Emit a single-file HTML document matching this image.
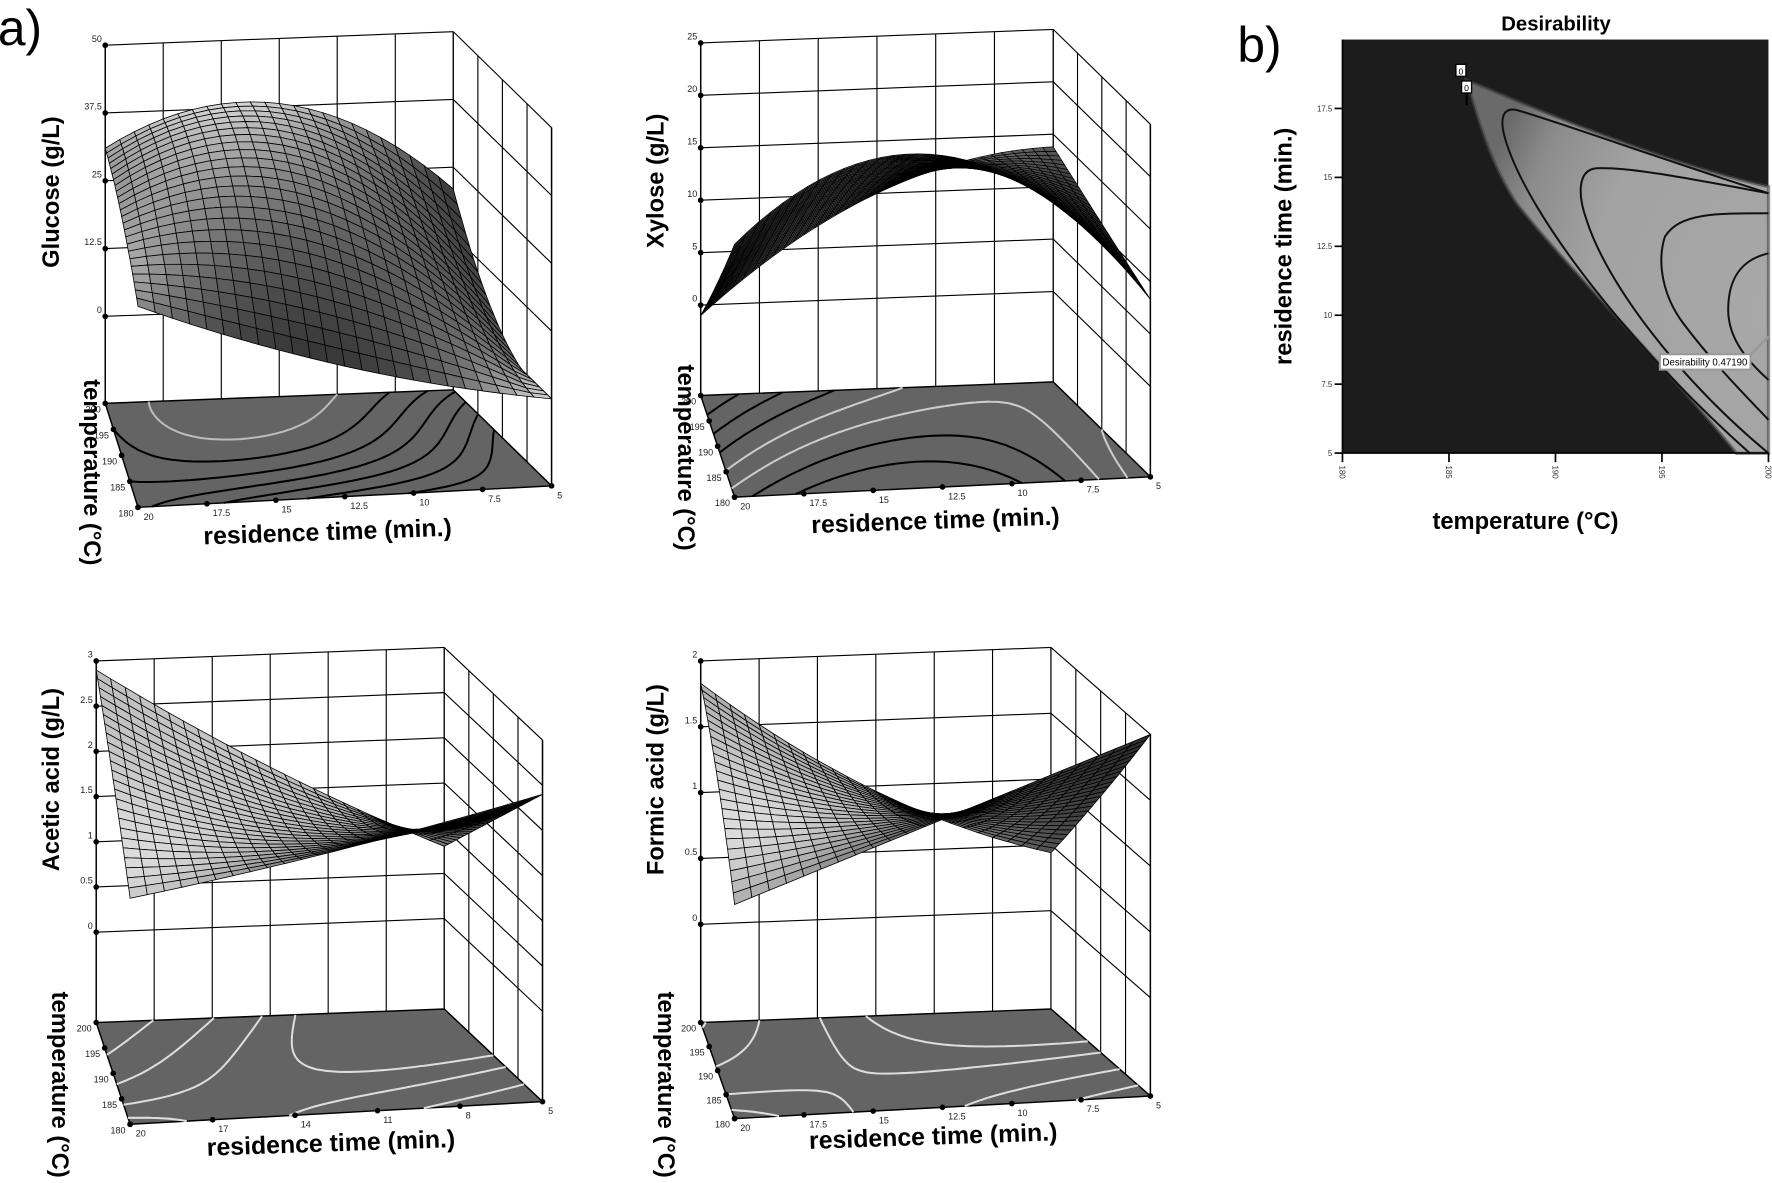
<!DOCTYPE html>
<html><head><meta charset="utf-8"><style>
html,body{margin:0;padding:0;background:#fff;}
svg{display:block;font-family:"Liberation Sans",sans-serif;}
.ttl{font-weight:bold;font-size:21px;}
.tk{font-size:8px;fill:#222;}
</style></head><body>
<svg id="fig" width="1772" height="1183" viewBox="0 0 1568 1047" xmlns="http://www.w3.org/2000/svg">
<text x="-2" y="40" font-size="44">a)</text>
<text x="1095" y="55" font-size="44">b)</text>
<g id="g-glu"></g>
<g id="g-xyl"></g>
<g id="g-ace"></g>
<g id="g-for"></g>

<text class="ttl" transform="translate(52,170) rotate(-90)" text-anchor="middle">Glucose (g/L)</text>
<text class="ttl" transform="translate(587,160) rotate(-90)" text-anchor="middle">Xylose (g/L)</text>
<text class="ttl" transform="translate(52,690) rotate(-90)" text-anchor="middle">Acetic acid (g/L)</text>
<text class="ttl" transform="translate(587,690) rotate(-90)" text-anchor="middle">Formic acid (g/L)</text>

<text class="ttl" transform="translate(74,418) rotate(90)" text-anchor="middle">temperature (°C)</text>
<text class="ttl" transform="translate(600,405) rotate(90)" text-anchor="middle">temperature (°C)</text>
<text class="ttl" transform="translate(46,960) rotate(90)" text-anchor="middle">temperature (°C)</text>
<text class="ttl" transform="translate(582,960) rotate(90)" text-anchor="middle">temperature (°C)</text>

<text class="ttl" transform="translate(290,478) rotate(-2)" text-anchor="middle" style="font-size:22px">residence time (min.)</text>
<text class="ttl" transform="translate(828,468) rotate(-2)" text-anchor="middle" style="font-size:22px">residence time (min.)</text>
<text class="ttl" transform="translate(293,1019) rotate(-2)" text-anchor="middle" style="font-size:22px">residence time (min.)</text>
<text class="ttl" transform="translate(826,1013) rotate(-2)" text-anchor="middle" style="font-size:22px">residence time (min.)</text>

<g id="desir">
<defs>
<radialGradient id="dg" cx="1.0" cy="0.62" r="1.0">
<stop offset="0" stop-color="#a8a8a8"/><stop offset="0.6" stop-color="#a2a2a2"/><stop offset="0.85" stop-color="#8c8c8c"/><stop offset="1" stop-color="#6a6a6a"/>
</radialGradient>
</defs>
<text x="1377" y="27" text-anchor="middle" font-weight="bold" font-size="18">Desirability</text>
<rect x="1188" y="35" width="377" height="366" fill="#1c1c1c"/>
<g transform="translate(1176.9,26.55) scale(0.29496)">
<path d="M410,150 C600,230 1000,400 1316,470 L1316,1270 L1220,1270 C1000,1000 700,700 560,520 C480,400 440,250 410,150 Z" fill="url(#dg)" stroke="#444" stroke-width="10" stroke-opacity="0.6"/>
<g fill="none" stroke="#111" stroke-width="6">
<path d="M1316,490 C1000,390 700,280 560,240 C510,230 510,280 530,340 C600,560 900,950 1260,1270"/>
<path d="M1316,490 C1100,450 900,410 800,415 C740,420 745,500 770,570 C830,760 1050,1050 1316,1270"/>
<path d="M1316,550 C1150,550 1050,550 1005,620 C980,700 1000,800 1060,880 C1150,1000 1250,1100 1316,1170"/>
<path d="M1316,670 C1230,690 1195,750 1195,840 C1195,930 1260,1000 1316,1050"/>
</g>
<line x1="410" y1="185" x2="410" y2="225" stroke="#000" stroke-width="6"/>
<rect x="378" y="103" width="30" height="36" fill="#fff" stroke="#000" stroke-width="4"/>
<text x="393" y="133" font-size="26" text-anchor="middle">0</text>
<rect x="395" y="153" width="30" height="36" fill="#fff" stroke="#000" stroke-width="4"/>
<text x="410" y="183" font-size="26" text-anchor="middle">0</text>
<line x1="1262" y1="975" x2="1316" y2="920" stroke="#999" stroke-width="8"/>
<rect x="990" y="973" width="272" height="46" fill="#fff" stroke="#999" stroke-width="6"/>
<text x="998" y="1006" font-size="29">Desirability  0.47190</text>
</g>
<g id="desir-axes"></g>
<text class="ttl" transform="translate(1143,218) rotate(-90)" text-anchor="middle">residence time (min.)</text>
<text class="ttl" x="1350" y="468" text-anchor="middle">temperature (°C)</text>
</g>
</svg>
<script>
const NS="http://www.w3.org/2000/svg";
// ---- data (z grids: rows = temperature 180,190,200; cols = residence time 20,12.5,5)
const glucoseZ=[[21,8,0],[28,30,3],[31,38,21]];
const xyloseZ=[[15.5,23,8.3],[7,17,11],[-1,10,13.8]];
const aceticZ=[[1.5,1.9,2.4],[2.25,1.6,1.6],[2.9,1.75,0.8]];
const formicZ=[[0.88,1.44,2.0],[1.46,1.14,1.2],[1.83,0.96,0.44]];
const glucoseTicks=["0","12.5","25","37.5","50"];
const xyloseTicks=["0","5","10","15","20","25"];
const aceticTicks=["0","0.5","1","1.5","2","2.5","3"];
const formicTicks=["0","0.5","1","1.5","2"];
const timeTicksA=["20","17.5","15","12.5","10","7.5","5"];
const timeTicksB=["20","17","14","11","8","5"];
const tempTicks=["180","185","190","195","200"];
const glucoseLevels=[5,10,15,20,25,30,35];
const xyloseLevels=[2,5,8,11,14,17,20];
const aceticLevels=[1.6,1.8,2.1,2.5];
const formicLevels=[1.0,1.2,1.5,1.8];
const desirTimeTicks=["5","7.5","10","12.5","15","17.5"];
const desirTempTicks=["180","185","190","195","200"];

function el(tag,attrs,parent){const e=document.createElementNS(NS,tag);for(const k in attrs)e.setAttribute(k,attrs[k]);parent.appendChild(e);return e;}
function L(s){return [2*(s-.5)*(s-1),-4*s*(s-1),2*s*(s-.5)];}
function zval(Z,u,v){const a=L(u),b=L(v);let z=0;for(let j=0;j<3;j++)for(let i=0;i<3;i++)z+=b[j]*a[i]*Z[j][i];return z;}

function panel(gid,cfg,Z,ticks,times,levels,colors,shade){
  const g=document.getElementById(gid);
  const zmax=parseFloat(ticks[ticks.length-1]);
  function fp(u,v){const [FL,FR,BL,BR]=[cfg.FL,cfg.FR,cfg.BL,cfg.BR];
    return [(1-u)*(1-v)*FL[0]+u*(1-v)*FR[0]+(1-u)*v*BL[0]+u*v*BR[0],(1-u)*(1-v)*FL[1]+u*(1-v)*FR[1]+(1-u)*v*BL[1]+u*v*BR[1]];}
  function P(u,v,z){const p=fp(u,v);return [p[0],p[1]-cfg.off-z*cfg.sc];}
  const ln=(a,b,w,c)=>el('line',{x1:a[0].toFixed(1),y1:a[1].toFixed(1),x2:b[0].toFixed(1),y2:b[1].toFixed(1),stroke:c||'#000','stroke-width':w||1},g);
  const top=(u,v)=>P(u,v,zmax);
  for(let k=0;k<=6;k++){const u=k/6;ln(fp(u,1),top(u,1));}
  for(let k=0;k<=4;k++){const v=1-k/4;ln(fp(1,v),top(1,v));}
  ticks.forEach(t=>{const z=parseFloat(t);ln(P(0,1,z),P(1,1,z));ln(P(1,1,z),P(1,0,z));});
  ln(fp(0,1),top(0,1),1.3);
  ticks.forEach(t=>{const z=parseFloat(t);const p=P(0,1,z);
    const c=el('circle',{cx:p[0],cy:p[1],r:2.5},g);
    
    const tx=el('text',{x:p[0]-3,y:p[1]-3,'text-anchor':'end','class':'tk'},g);tx.textContent=t;
    });
  const f=[fp(0,0),fp(1,0),fp(1,1),fp(0,1)];
  const fl=el('polygon',{points:f.map(p=>p.join(',')).join(' '),fill:'#646464',stroke:'#000','stroke-width':1.3},g);
  
  const M=40;
  levels.forEach((lv,li)=>{let d='';
    for(let j=0;j<M;j++)for(let i=0;i<M;i++){
      const u0=i/M,u1=(i+1)/M,v0=j/M,v1=(j+1)/M;
      const c=[[u0,v0],[u1,v0],[u1,v1],[u0,v1]];const zz=c.map(q=>zval(Z,q[0],q[1])-lv);
      const pts=[];for(let e=0;e<4;e++){const a=e,b=(e+1)%4;if((zz[a]<0)!=(zz[b]<0)){const t=zz[a]/(zz[a]-zz[b]);
        pts.push(fp(c[a][0]+t*(c[b][0]-c[a][0]),c[a][1]+t*(c[b][1]-c[a][1])));}}
      if(pts.length>=2)d+='M'+pts[0][0].toFixed(1)+','+pts[0][1].toFixed(1)+'L'+pts[1][0].toFixed(1)+','+pts[1][1].toFixed(1);
      if(pts.length==4)d+='M'+pts[2][0].toFixed(1)+','+pts[2][1].toFixed(1)+'L'+pts[3][0].toFixed(1)+','+pts[3][1].toFixed(1);}
    const p=el('path',{d:d,stroke:colors[li%colors.length],'stroke-width':1.8,fill:'none'},g);
    });
  tempTicks.forEach((t,k)=>{const p=fp(0,k/4);el('circle',{cx:p[0],cy:p[1],r:2.5},g);
    const tx=el('text',{x:p[0]-4,y:p[1]+8,'text-anchor':'end','class':'tk'},g);tx.textContent=t;
    });
  times.forEach((t,k)=>{const p=fp(k/(times.length-1),0);el('circle',{cx:p[0],cy:p[1],r:2.5},g);
    const tx=el('text',{x:p[0]+5,y:p[1]+11,'class':'tk'},g);tx.textContent=t;
    });
  const N=cfg.N;const sg=el('g',{},g);
  
  const Lv=shade.L;const ln2=Math.hypot(...Lv);
  for(let j=N-1;j>=0;j--)for(let i=0;i<N;i++){
    const u0=i/N,u1=(i+1)/N,v0=j/N,v1=(j+1)/N;
    const zc=q=>Math.max(cfg.zmin,zval(Z,q[0],q[1]));
    const cs=[[u0,v0],[u1,v0],[u1,v1],[u0,v1]];
    const pts=cs.map(q=>P(q[0],q[1],zc(q)));
    const zu=((zc([u1,v0])+zc([u1,v1]))-(zc([u0,v0])+zc([u0,v1])))/2/(u1-u0)/zmax;
    const zv=((zc([u0,v1])+zc([u1,v1]))-(zc([u0,v0])+zc([u1,v0])))/2/(v1-v0)/zmax;
    const n=[-zu*shade.a,-zv*shade.a,1];const nl=Math.hypot(...n);
    const dt=(n[0]*Lv[0]+n[1]*Lv[1]+n[2]*Lv[2])/nl/ln2;
    let gr=Math.round(Math.max(25,Math.min(225,shade.g0+shade.g1*dt)));
    el('polygon',{points:pts.map(p=>p[0].toFixed(1)+','+p[1].toFixed(1)).join(' '),fill:`rgb(${gr},${gr},${gr})`,stroke:'#000','stroke-width':shade.sw},sg);
  }
  ln(fp(1,0),top(1,0),1.3);
}
panel('g-glu',{BL:[93,357],BR:[401,345],FR:[488,430],FL:[122,449],off:77,sc:4.8,N:24,zmin:0},glucoseZ,glucoseTicks,timeTicksA,glucoseLevels,['#000','#000','#000','#000','#000','#000','#bbb'],{L:[0,0.5,1],a:1,g0:0,g1:235,sw:0.7});
panel('g-xyl',{BL:[620,350],BR:[932,338],FR:[1018,422],FL:[650,440],off:80,sc:9.28,N:34,zmin:-1},xyloseZ,xyloseTicks,timeTicksA,xyloseLevels,['#000','#000','#000','#ccc','#ccc','#000','#000'],{L:[-0.5,0.3,1],a:1.5,g0:40,g1:60,sw:0.6});
panel('g-ace',{BL:[85,905],BR:[393,893],FR:[480,975],FL:[115,995],off:80,sc:80,N:24,zmin:0},aceticZ,aceticTicks,timeTicksB,aceticLevels,['#ddd','#ddd','#ddd','#ddd'],{L:[0.3,-0.8,1],a:1.5,g0:60,g1:160,sw:0.7});
panel('g-for',{BL:[620,905],BR:[930,893],FR:[1018,970],FL:[650,990],off:87,sc:116.5,N:24,zmin:0},formicZ,formicTicks,timeTicksA,formicLevels,['#ddd','#ddd','#ddd','#ddd'],{L:[0.3,-0.8,1],a:1.5,g0:60,g1:160,sw:0.7});

(function(){const g=document.getElementById('desir-axes');
  const x0=1188,x1=1565,y0=401,y1=35;
  const ys=v=>y0-(parseFloat(v)-5)/(20-5)*(y0-y1);
  const xs=v=>x0+(parseFloat(v)-180)/20*(x1-x0);
  el('line',{x1:x0,y1:y0,x2:x1,y2:y0,stroke:'#000','stroke-width':1.5},g);
  el('line',{x1:x0,y1:y0,x2:x0,y2:y1,stroke:'#000','stroke-width':1.5},g);
  desirTimeTicks.forEach(t=>{const y=ys(t);el('line',{x1:x0-7,y1:y,x2:x0,y2:y,stroke:'#000','stroke-width':1.5},g);
    const tx=el('text',{x:x0-9,y:y+2.5,'text-anchor':'end','font-size':7,fill:'#333'},g);tx.textContent=t;
    });
  desirTempTicks.forEach(t=>{const x=xs(t);el('line',{x1:x,y1:y0,x2:x,y2:y0+8,stroke:'#000','stroke-width':1.5},g);
    const tx=el('text',{transform:`translate(${x-2.5},${y0+11}) rotate(90)`,'font-size':7,fill:'#333'},g);tx.textContent=t;
    });
})();
</script>
</body></html>
